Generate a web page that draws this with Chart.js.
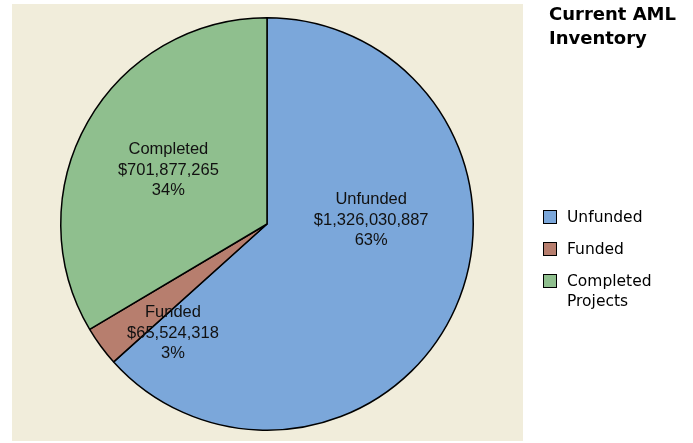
<!DOCTYPE html>
<html>
<head>
<meta charset="utf-8">
<script src="https://cdn.jsdelivr.net/npm/chart.js@4"></script>
<style>
  html, body { margin: 0; padding: 0; background: #fff; }
  #wrap { width: 693px; height: 443px; position: relative; }
</style>
</head>
<body>
<div id="wrap"><canvas id="amlChart"></canvas></div>
<script>
// chart data
const categories = ['Unfunded', 'Funded', 'Completed'];
const legendNames = [['Unfunded'], ['Funded'], ['Completed', 'Projects']];
const amounts = [1326030887, 65524318, 701877265];
const percentLabels = ['63%', '3%', '34%'];
const sliceColors = ['#7BA7DA', '#B77E6E', '#8FBF8E'];

// small nudges for the slice labels (pixels from the arc centroid)
const labelNudge = [[10, -46], [-11, 48], [-9, -3]];

const money = v => '$' + v.toLocaleString('en-US');

const decorPlugin = {
    id: 'decor',
    beforeDraw(chart) {
        const ctx = chart.ctx;
        ctx.save();
        ctx.fillStyle = '#F1EDDB';
        ctx.fillRect(12, 4, 511, 437);
        ctx.restore();
    },
    afterDraw(chart) {
        const ctx = chart.ctx;
        const meta = chart.getDatasetMeta(0);
        ctx.save();

        // slice labels
        ctx.fillStyle = '#111';
        ctx.font = '16.5px "Liberation Sans", Arial, sans-serif';
        ctx.textAlign = 'center';
        ctx.textBaseline = 'middle';
        meta.data.forEach((arc, i) => {
            const p = arc.tooltipPosition();
            const x = p.x + labelNudge[i][0];
            const y = p.y + labelNudge[i][1];
            const lines = [categories[i], money(amounts[i]), percentLabels[i]];
            lines.forEach((t, k) => ctx.fillText(t, x, y + (k - 1) * 20.5));
        });

        // title
        ctx.textAlign = 'left';
        ctx.fillStyle = '#000';
        ctx.font = 'bold 18px "DejaVu Sans", Verdana, sans-serif';
        ctx.fillText('Current AML', 549, 15);
        ctx.fillText('Inventory', 549, 39);

        // legend
        ctx.font = '15.5px "DejaVu Sans", Verdana, sans-serif';
        let y = 217;
        legendNames.forEach((names, i) => {
            ctx.fillStyle = sliceColors[i];
            ctx.fillRect(543, y - 7, 14, 14);
            ctx.strokeStyle = '#000';
            ctx.lineWidth = 1;
            ctx.strokeRect(543.5, y - 6.5, 13, 13);
            ctx.fillStyle = '#000';
            names.forEach((n, k) => ctx.fillText(n, 567, y + 1 + k * 19.5));
            y += 32;
        });
        ctx.restore();
    }
};

const ctx = document.getElementById('amlChart').getContext('2d');
new Chart(ctx, {
    type: 'pie',
    data: {
        labels: categories,
        datasets: [{
            data: amounts,
            backgroundColor: sliceColors,
            borderColor: '#000',
            borderWidth: 1.5
        }]
    },
    options: {
        responsive: true,
        maintainAspectRatio: false,
        animation: false,
        layout: {
            padding: { left: 60, right: 219, top: 17, bottom: 12 }
        },
        plugins: {
            legend: { display: false },
            tooltip: { enabled: false }
        }
    },
    plugins: [decorPlugin]
});
</script>
</body>
</html>
